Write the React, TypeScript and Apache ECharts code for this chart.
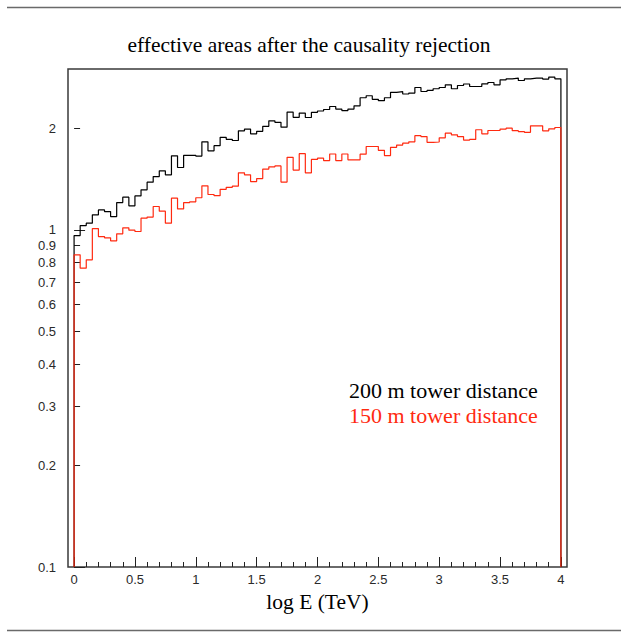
import React, { useEffect, useRef } from "react";
import * as echarts from "echarts";

// Histogram binning (log E in TeV)
const BIN_START = 0;
const BIN_WIDTH = 0.05;
const Y_FLOOR = 0.1;

// 200 m tower distance (black)
const black200m = [
  0.962, 1.03, 1.047, 1.108, 1.146, 1.133, 1.095, 1.205, 1.25, 1.178,
  1.261, 1.314, 1.385, 1.439, 1.497, 1.456, 1.658, 1.531, 1.664, 1.664,
  1.655, 1.824, 1.716, 1.777, 1.881, 1.856, 1.841, 1.967, 1.99, 1.927,
  1.96, 2.028, 2.106, 2.084, 2.017, 2.235, 2.157, 2.22, 2.154, 2.232,
  2.252, 2.275, 2.322, 2.281, 2.259, 2.281, 2.333, 2.465, 2.499, 2.439,
  2.417, 2.465, 2.559, 2.571, 2.529, 2.545, 2.644, 2.573, 2.591, 2.621,
  2.644, 2.693, 2.621, 2.68, 2.708, 2.662, 2.662, 2.712, 2.736, 2.693,
  2.786, 2.806, 2.819, 2.773, 2.806, 2.819, 2.819, 2.8, 2.839, 2.806,
];

// 150 m tower distance (red)
const red150m = [
  0.843, 0.77, 0.815, 1.009, 0.955, 0.947, 0.928, 0.973, 1.014, 0.998,
  0.989, 1.083, 1.091, 1.173, 1.136, 1.047, 1.242, 1.154, 1.205, 1.211,
  1.245, 1.351, 1.273, 1.263, 1.319, 1.337, 1.348, 1.476, 1.456, 1.391,
  1.419, 1.515, 1.538, 1.548, 1.386, 1.641, 1.504, 1.683, 1.476, 1.618,
  1.632, 1.605, 1.679, 1.605, 1.679, 1.613, 1.613, 1.677, 1.767, 1.767,
  1.722, 1.661, 1.757, 1.784, 1.808, 1.824, 1.903, 1.891, 1.818, 1.822,
  1.875, 1.936, 1.914, 1.891, 1.846, 1.855, 1.981, 1.927, 1.971, 1.971,
  1.99, 2.003, 1.969, 1.957, 1.947, 2.035, 2.035, 1.967, 1.994, 2.012,
];

const xTickLabels = [0, 0.5, 1, 1.5, 2, 2.5, 3, 3.5, 4];
const xMinorTicks = [
  0.1, 0.2, 0.3, 0.4, 0.6, 0.7, 0.8, 0.9, 1.1, 1.2, 1.3, 1.4, 1.6, 1.7, 1.8, 1.9,
  2.1, 2.2, 2.3, 2.4, 2.6, 2.7, 2.8, 2.9, 3.1, 3.2, 3.3, 3.4, 3.6, 3.7, 3.8, 3.9,
];
const yTickLabels = [0.1, 0.2, 0.3, 0.4, 0.5, 0.6, 0.7, 0.8, 0.9, 1, 2];
const yMajorTicks = [0.1, 1];
const yMinorTicks = [0.2, 0.3, 0.4, 0.5, 0.6, 0.7, 0.8, 0.9, 2];

const titleText = "effective areas after the causality rejection";
const xAxisTitle = "log E (TeV)";
const legendLabels = ["200 m tower distance", "150 m tower distance"];
const seriesColors = ["#000000", "#ff2a10"];

function histPoints(values: number[], start: number, width: number, floor: number) {
  const pts: number[][] = [[start, floor]];
  values.forEach((v, i) => {
    const x0 = start + i * width;
    pts.push([x0, v], [x0 + width, v]);
  });
  pts.push([start + values.length * width, floor]);
  return pts;
}

const SERIF = '"Liberation Serif", "Times New Roman", serif';
const SANS = '"Liberation Sans", Arial, sans-serif';

export default function App() {
  const ref = useRef<HTMLDivElement>(null);

  useEffect(() => {
    if (!ref.current) return;
    const chart = echarts.init(ref.current, undefined, { renderer: "svg" });
    const tickColor = "#222";
    const labelStyle = { fontFamily: SANS, fontSize: 13, color: "#2a2a2a" };

    chart.setOption({
      animation: false,
      backgroundColor: "#ffffff",
      grid: {
        left: 68,
        top: 69,
        width: 499,
        height: 498,
        show: true,
        borderColor: "#3a3a3a",
        borderWidth: 1.5,
        backgroundColor: "transparent",
      },
      xAxis: [
        {
          type: "value",
          min: -0.05,
          max: 4.05,
          position: "bottom",
          axisLine: { show: false },
          splitLine: { show: false },
          axisTick: {
            show: true,
            inside: true,
            length: 10,
            customValues: xTickLabels,
            lineStyle: { color: tickColor, width: 1 },
          },
          axisLabel: {
            customValues: xTickLabels,
            formatter: (v: number) => String(v),
            margin: 6,
            ...labelStyle,
          },
          name: xAxisTitle,
          nameLocation: "middle",
          nameGap: 24,
          nameTextStyle: { fontFamily: SERIF, fontSize: 21.5, color: "#000" },
        },
        {
          type: "value",
          min: -0.05,
          max: 4.05,
          position: "bottom",
          axisLine: { show: false },
          splitLine: { show: false },
          axisTick: {
            show: true,
            inside: true,
            length: 5,
            customValues: xMinorTicks,
            lineStyle: { color: tickColor, width: 1 },
          },
          axisLabel: { show: false },
        },
      ],
      yAxis: [
        {
          type: "log",
          logBase: 10,
          min: 0.1,
          max: 3,
          position: "left",
          axisLine: { show: false },
          splitLine: { show: false },
          axisTick: {
            show: true,
            inside: true,
            length: 6,
            customValues: yMinorTicks,
            lineStyle: { color: tickColor, width: 1 },
          },
          axisLabel: {
            customValues: yTickLabels,
            formatter: (v: number) => String(Math.round(v * 100) / 100),
            margin: 12,
            ...labelStyle,
          },
        },
        {
          type: "log",
          logBase: 10,
          min: 0.1,
          max: 3,
          position: "left",
          axisLine: { show: false },
          splitLine: { show: false },
          axisTick: {
            show: true,
            inside: true,
            length: 11,
            customValues: yMajorTicks,
            lineStyle: { color: tickColor, width: 1 },
          },
          axisLabel: { show: false },
        },
      ],
      series: [
        {
          name: legendLabels[0],
          type: "line",
          xAxisIndex: 0,
          yAxisIndex: 0,
          data: histPoints(black200m, BIN_START, BIN_WIDTH, Y_FLOOR),
          showSymbol: false,
          symbol: "none",
          lineStyle: { color: seriesColors[0], width: 1.2 },
          z: 3,
        },
        {
          name: legendLabels[1],
          type: "line",
          xAxisIndex: 0,
          yAxisIndex: 0,
          data: histPoints(red150m, BIN_START, BIN_WIDTH, Y_FLOOR),
          showSymbol: false,
          symbol: "none",
          lineStyle: { color: seriesColors[1], width: 1.2 },
          z: 4,
        },
      ],
      graphic: [
        {
          type: "line",
          shape: { x1: 7, y1: 7.5, x2: 621, y2: 7.5 },
          style: { stroke: "#6a6a6a", lineWidth: 1.5 },
        },
        {
          type: "line",
          shape: { x1: 7, y1: 630.5, x2: 621, y2: 630.5 },
          style: { stroke: "#6a6a6a", lineWidth: 1.5 },
        },
        {
          type: "text",
          x: 309,
          y: 45,
          style: {
            text: titleText,
            fontFamily: SERIF,
            fontSize: 21.5,
            fill: "#000",
            align: "center",
            verticalAlign: "middle",
          },
        },
        {
          type: "text",
          x: 349,
          y: 390,
          style: {
            text: legendLabels[0],
            fontFamily: SERIF,
            fontSize: 22,
            fill: seriesColors[0],
            align: "left",
            verticalAlign: "middle",
          },
        },
        {
          type: "text",
          x: 349,
          y: 415,
          style: {
            text: legendLabels[1],
            fontFamily: SERIF,
            fontSize: 22,
            fill: seriesColors[1],
            align: "left",
            verticalAlign: "middle",
          },
        },
      ],
    });

    return () => chart.dispose();
  }, []);

  return (
    <div
      ref={ref}
      style={{ position: "fixed", left: 0, top: 0, width: 621, height: 644, background: "#fff" }}
    />
  );
}
